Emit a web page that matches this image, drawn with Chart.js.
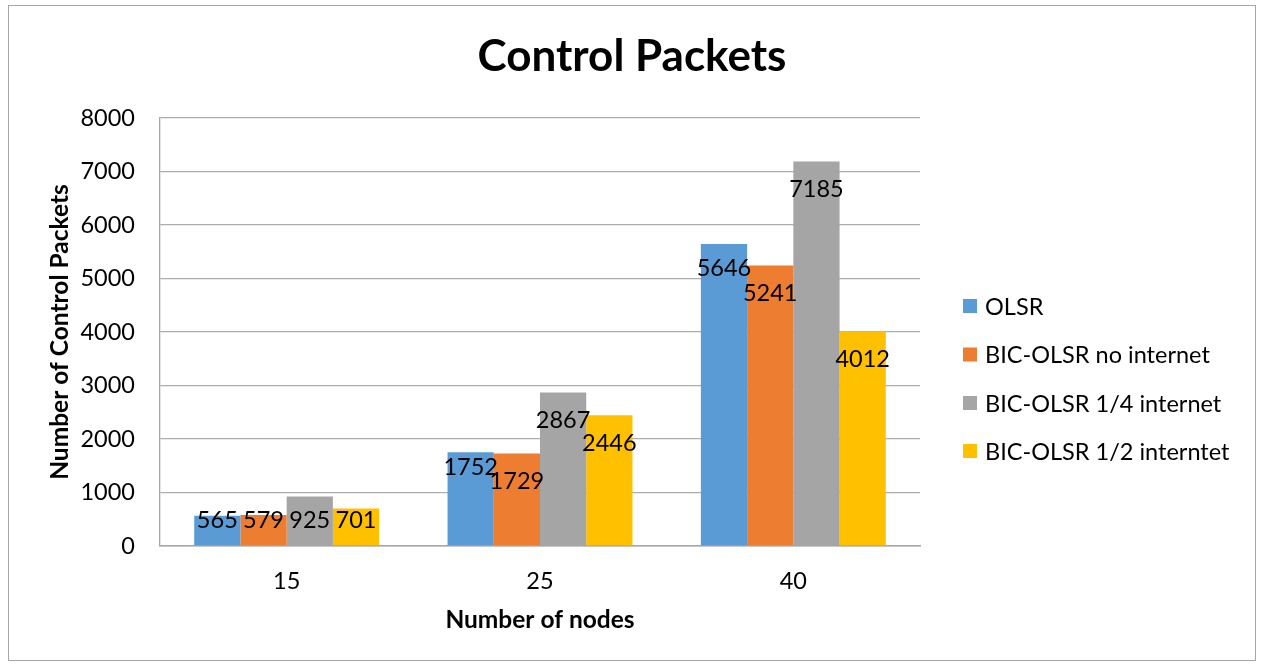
<!DOCTYPE html>
<html>
<head>
<meta charset="utf-8">
<script src="https://cdn.jsdelivr.net/npm/chart.js@4.4.1/dist/chart.umd.min.js"></script>
<style>
  html, body { margin: 0; padding: 0; background: #ffffff; }
  #wrap { width: 1261px; height: 665px; }
</style>
</head>
<body>
<div id="wrap"><canvas id="c" width="1261" height="665"></canvas></div>
<script>
// Number of nodes in the network
const categories = ['15', '25', '40'];

// Control packets per protocol variant
const seriesNames = ['OLSR', 'BIC-OLSR no internet', 'BIC-OLSR 1/4 internet', 'BIC-OLSR 1/2 interntet'];
const olsr = [565, 1752, 5646];
const bicNoInternet = [579, 1729, 5241];
const bicQuarterInternet = [925, 2867, 7185];
const bicHalfInternet = [701, 2446, 4012];

const yTicks = [0, 1000, 2000, 3000, 4000, 5000, 6000, 7000, 8000];

const colors = ['#5B9BD5', '#ED7D31', '#A5A5A5', '#FFC000'];
const FONT = 'Lato, "Open Sans", sans-serif';

const seriesValues = [olsr, bicNoInternet, bicQuarterInternet, bicHalfInternet];

// Outer frame, titles and legend drawn around the plot
const framePlugin = {
  id: 'frame',
  afterDraw(chart) {
    const ctx = chart.ctx;
    const area = chart.chartArea;
    ctx.save();
    ctx.strokeStyle = '#A6A6A6';
    ctx.lineWidth = 1;
    ctx.strokeRect(8.5, 5.5, 1247, 655);

    ctx.fillStyle = '#000';
    ctx.font = 'bold 44px ' + FONT;
    ctx.textAlign = 'center';
    ctx.textBaseline = 'middle';
    ctx.fillText('Control Packets', 632, 57);

    // vertical axis title
    ctx.save();
    ctx.translate(60, (area.top + area.bottom) / 2);
    ctx.rotate(-Math.PI / 2);
    ctx.font = 'bold 24.5px ' + FONT;
    ctx.fillText('Number of Control Packets', 0, 0);
    ctx.restore();

    ctx.font = '23.5px ' + FONT;
    ctx.textAlign = 'left';
    const rows = [306, 354.5, 403, 451];
    chart.data.datasets.forEach((ds, i) => {
      ctx.fillStyle = ds.backgroundColor;
      ctx.fillRect(963, rows[i] - 7, 14, 14);
      ctx.fillStyle = '#000';
      ctx.fillText(ds.label, 985, rows[i] + 1);
    });
    ctx.restore();
  }
};

// Value labels near the inner end of each bar
const valueLabelPlugin = {
  id: 'valueLabels',
  afterDatasetsDraw(chart, args, opts) {
    const ctx = chart.ctx;
    const base = chart.scales.y.getPixelForValue(0);
    ctx.save();
    ctx.font = '23.5px ' + FONT;
    ctx.fillStyle = '#000';
    ctx.textAlign = 'center';
    ctx.textBaseline = 'middle';
    chart.data.datasets.forEach((ds, di) => {
      const meta = chart.getDatasetMeta(di);
      meta.data.forEach((bar, i) => {
        const nudge = (opts.nudge[di] && opts.nudge[di][i]) || 0;
        const y = Math.min(bar.y + 28, base - 26) + nudge;
        ctx.fillText(String(ds.data[i]), bar.x, y);
      });
    });
    ctx.restore();
  }
};

new Chart(document.getElementById('c'), {
  type: 'bar',
  data: {
    labels: categories,
    datasets: seriesNames.map((name, i) => ({
      label: name,
      data: seriesValues[i],
      backgroundColor: colors[i],
      borderWidth: 0,
      categoryPercentage: 0.73,
      barPercentage: 1.0
    }))
  },
  options: {
    responsive: false,
    animation: false,
    devicePixelRatio: 1,
    layout: { padding: { top: 118, right: 341, left: 0, bottom: 0 } },
    plugins: {
      legend: { display: false },
      title: { display: false },
      tooltip: { enabled: false },
      valueLabels: { nudge: [[0, -13, -4], [0, 0, 0], [0, 0, 0], [0, 0, 0]] }
    },
    scales: {
      x: {
        grid: { display: false, drawTicks: false },
        border: { display: true, color: '#A6A6A6', width: 1.5 },
        ticks: { color: '#000', font: { family: FONT, size: 23.5 }, padding: 21 },
        title: {
          display: true,
          text: 'Number of nodes',
          color: '#000',
          font: { family: FONT, size: 24.5, weight: 'bold' },
          padding: { top: 0, bottom: 30 }
        },
        afterFit(scale) { scale.height = 665 - 546; }
      },
      y: {
        min: 0,
        max: 8000,
        afterBuildTicks(scale) { scale.ticks = yTicks.map(v => ({ value: v })); },
        grid: { color: '#ADADAD', lineWidth: 1.3, drawTicks: false },
        border: { display: true, color: '#A6A6A6', width: 1.3 },
        ticks: {
          color: '#000',
          font: { family: FONT, size: 23.5 },
          padding: 25,
          callback: (v) => String(v)
        },
        title: { display: false },
        afterFit(scale) { scale.width = 160; }
      }
    }
  },
  plugins: [valueLabelPlugin, framePlugin]
});
</script>
</body>
</html>
